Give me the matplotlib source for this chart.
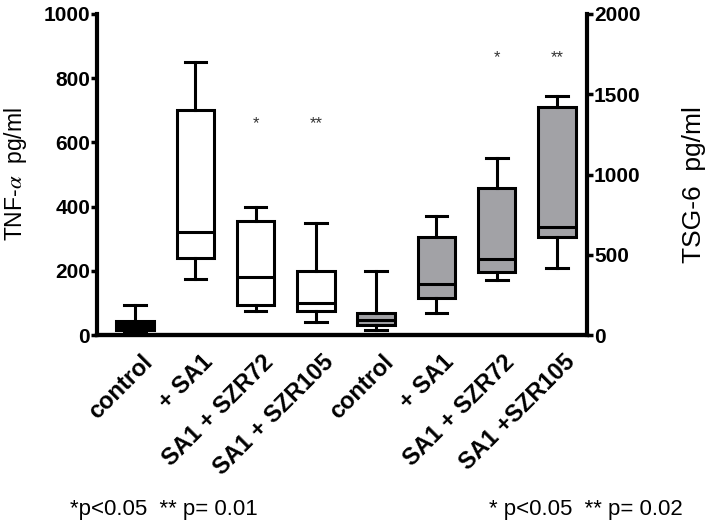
import matplotlib.pyplot as plt
from matplotlib.transforms import ScaledTranslation

plt.rcParams['font.family'] = ['Liberation Sans', 'DejaVu Sans']
plt.rcParams['mathtext.fontset'] = 'stix'

# TNF-alpha (left axis, pg/ml)
tnf_labels = ["control", "+ SA1", "SA1 + SZR72", "SA1 + SZR105"]
tnf_lo = [10, 175, 75, 40]
tnf_q1 = [15, 240, 95, 75]
tnf_med = [30, 320, 180, 100]
tnf_q3 = [45, 700, 355, 200]
tnf_hi = [95, 850, 400, 350]
tnf_stars = ["", "", "*", "**"]
tnf_star_y = 660

# TSG-6 (right axis, pg/ml)
tsg_labels = ["control", "+ SA1", "SA1 + SZR72", "SA1 +SZR105"]
tsg_lo = [30, 140, 345, 415]
tsg_q1 = [65, 230, 395, 610]
tsg_med = [95, 315, 475, 670]
tsg_q3 = [140, 610, 915, 1420]
tsg_hi = [400, 740, 1100, 1490]
tsg_stars = ["", "", "*", "**"]
tsg_star_y = 1730

note_left = "*p<0.05  ** p= 0.01"
note_right = "* p<0.05  ** p= 0.02"


def stats(lo, q1, med, q3, hi):
    return [dict(whislo=a, q1=b, med=c, q3=d, whishi=e, fliers=[])
            for a, b, c, d, e in zip(lo, q1, med, q3, hi)]


fig = plt.figure(figsize=(7.09, 5.28), dpi=100)
ax = fig.add_axes([0.137, 0.3655, 0.691, 0.608])
ax2 = ax.twinx()

lw = 2.2
common = dict(widths=0.62, capwidths=0.36, patch_artist=True, showfliers=False,
              whiskerprops=dict(color="black", lw=lw),
              capprops=dict(color="black", lw=lw),
              medianprops=dict(color="black", lw=lw))

pos1 = [1, 2, 3, 4]
pos2 = [5, 6, 7, 8]
b1 = ax.bxp(stats(tnf_lo, tnf_q1, tnf_med, tnf_q3, tnf_hi), positions=pos1,
            boxprops=dict(facecolor="white", edgecolor="black", lw=lw), **common)
b1["boxes"][0].set_facecolor("black")
b2 = ax2.bxp(stats(tsg_lo, tsg_q1, tsg_med, tsg_q3, tsg_hi), positions=pos2,
             boxprops=dict(facecolor="#a2a2a6", edgecolor="black", lw=lw), **common)

for p, s in zip(pos1, tnf_stars):
    ax.text(p, tnf_star_y, s, ha="center", va="center", fontsize=12, color="#333333")
for p, s in zip(pos2, tsg_stars):
    ax2.text(p, tsg_star_y, s, ha="center", va="center", fontsize=12, color="#333333")

ax.set_xlim(0.37, 8.5)
ax.set_ylim(0, 1000)
ax2.set_ylim(0, 2000)
ax.set_yticks([0, 200, 400, 600, 800, 1000])
ax2.set_yticks([0, 500, 1000, 1500, 2000])

ax.set_xticks(pos1 + pos2, tnf_labels + tsg_labels)
ax.tick_params(axis="x", length=0, pad=11, labelsize=17)
shift = ScaledTranslation(6 / 100, 0, fig.dpi_scale_trans)
for t in ax.get_xticklabels():
    t.set_rotation(45)
    t.set_ha("right")
    t.set_va("top")
    t.set_rotation_mode("anchor")
    t.set_fontweight("bold")
    t.set_transform(t.get_transform() + shift)

for a in (ax, ax2):
    for sp in a.spines.values():
        sp.set_linewidth(3)
    a.spines["top"].set_visible(False)
    a.tick_params(axis="y", width=2.5, length=4, labelsize=15, pad=1)
    for t in a.get_yticklabels():
        t.set_fontweight("bold")
ax.spines["right"].set_visible(False)
ax2.spines["left"].set_visible(False)

ax.set_ylabel(r"TNF-$\alpha$  pg/ml", fontsize=16.5)
ax.yaxis.set_label_coords(-0.14, 0.5)
ax2.set_ylabel("TSG-6  pg/ml", fontsize=19, rotation=90)
ax2.yaxis.set_label_coords(1.194, 0.47)

fig.text(70 / 709, 1 - 510 / 528, note_left, ha="left", va="center", fontsize=16,
         family=["Liberation Sans Narrow", "Liberation Sans"])
fig.text(683 / 709, 1 - 510 / 528, note_right, ha="right", va="center", fontsize=16,
         family=["Liberation Sans Narrow", "Liberation Sans"])

fig.savefig("out.png", dpi=100)
